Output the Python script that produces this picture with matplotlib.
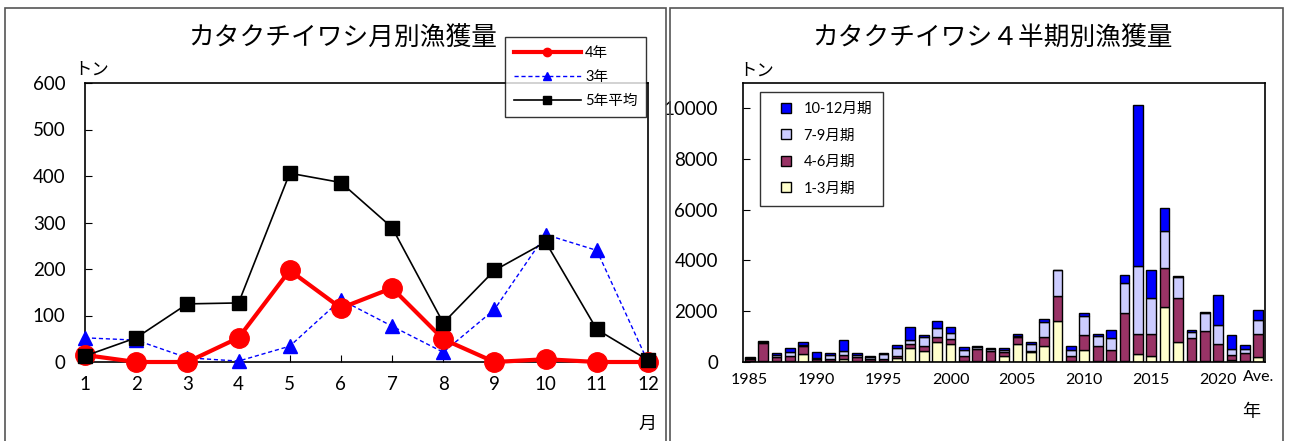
import numpy as np
import matplotlib.pyplot as plt
from matplotlib.lines import Line2D
from matplotlib.patches import Rectangle

plt.rcParams['font.family'] = ['Lato', 'Noto Sans CJK JP', 'DejaVu Sans']

''' Monthly catch (tons) '''
months = list(range(1, 13))
catch_r4 = [15, 0, 0, 52, 197, 116, 159, 49, 0, 6, 0, 0]
catch_r3 = [52, 47, 9, 2, 34, 134, 77, 21, 113, 274, 240, 0]
catch_avg5 = [13, 52, 125, 127, 406, 386, 289, 84, 197, 258, 70, 4]

''' Quarterly catch (tons), 1985-2022 plus average '''
years = [str(y) for y in range(1985, 2023)] + ["Ave."]
q1 = [10, 20, 20, 30, 300, 10, 30, 90, 20, 20, 40, 150, 560, 410, 760, 710, 20, 30, 20, 210,
      700, 370, 600, 1610, 20, 470, 30, 20, 30, 300, 240, 2140, 760, 20, 10, 10, 60, 20, 180]
q2 = [110, 720, 180, 180, 300, 80, 60, 170, 170, 90, 60, 80, 140, 220, 220, 180, 210, 470, 410, 160,
      280, 60, 360, 990, 220, 590, 600, 450, 1910, 810, 870, 1570, 1770, 920, 1190, 700, 220, 320, 920]
q3 = [20, 30, 80, 180, 60, 40, 180, 170, 90, 80, 200, 330, 160, 330, 350, 240, 250, 80, 80, 80,
      30, 270, 590, 1000, 230, 750, 390, 470, 1170, 2670, 1420, 1450, 820, 240, 740, 720, 240, 170, 550]
q4 = [30, 60, 50, 170, 130, 240, 60, 420, 50, 40, 60, 90, 490, 100, 260, 220, 110, 50, 50, 110,
      100, 90, 130, 10, 160, 130, 90, 310, 300, 6340, 1090, 920, 40, 80, 30, 1190, 530, 130, 390]

W, H = 1289, 441
fig = plt.figure(figsize=(W / 100, H / 100), dpi=100)


def px_axes(left, top, right, bottom):
    return fig.add_axes([left / W, 1 - bottom / H, (right - left) / W, (bottom - top) / H])


# panel frames
for x0, x1 in [(5, 666), (670, 1283)]:
    fig.patches.append(Rectangle((x0 / W, -0.01), (x1 - x0) / W, 1 - 8 / H + 0.01,
                                 transform=fig.transFigure, fill=False,
                                 edgecolor="#555555", linewidth=1.2))

''' Left: monthly line chart '''
ax = px_axes(85, 83, 648, 362)
ax.plot(months, catch_r4, color="#ff0000", lw=3, marker="o", ms=14,
        markeredgecolor="#ff0000", clip_on=False, zorder=4)
ax.plot(months, catch_r3, color="#0000ff", lw=1, ls=(0, (3, 2)), marker="^", ms=10,
        clip_on=False, zorder=3)
ax.plot(months, catch_avg5, color="black", lw=1.2, marker="s", ms=10,
        clip_on=False, zorder=5)
ax.set_xlim(1, 12)
ax.set_ylim(0, 600)
ax.set_xticks(months)
ax.set_yticks(range(0, 601, 100))
ax.tick_params(direction="in", length=5, labelsize=13.5)
ax.tick_params(axis="y", pad=14)
ax.tick_params(axis="x", pad=10)
for s in ax.spines.values():
    s.set_linewidth(1.2)

handles = [Line2D([], [], color="#ff0000", lw=3, marker="o", ms=6),
           Line2D([], [], color="#0000ff", lw=1, ls=(0, (3, 2)), marker="^", ms=6),
           Line2D([], [], color="black", lw=1.2, marker="s", ms=6)]
leg = fig.legend(handles, ["4年", "3年", "5年平均"], loc="upper left",
                 bbox_to_anchor=(505 / W, 1 - 37 / H), fontsize=10.5, frameon=True,
                 fancybox=False, edgecolor="black", handlelength=4.6, handletextpad=0.3,
                 labelspacing=0.7, borderpad=0.6, borderaxespad=0)
leg.get_frame().set_linewidth(1)

fig.text(343 / W, 1 - 38 / H, "カタクチイワシ月別漁獲量", ha="center", va="center", fontsize=18.5)
fig.text(92 / W, 1 - 70 / H, "トン", ha="center", va="center", fontsize=12.5)
fig.text(647 / W, 1 - 424 / H, "月", ha="center", va="center", fontsize=13)

''' Right: quarterly stacked bars '''
bx = px_axes(743, 83, 1265, 361.7)
idx = np.arange(len(years))
colors = ["#ffffcc", "#993366", "#ccccff", "#0000ff"]
labels = ["1-3月期", "4-6月期", "7-9月期", "10-12月期"]
bottom = np.zeros(len(years))
for vals, c in zip([q1, q2, q3, q4], colors):
    bx.bar(idx, vals, bottom=bottom, width=0.72, color=c, edgecolor="black", linewidth=1)
    bottom += np.array(vals)
bx.set_xlim(-0.5, len(years) - 0.5)
bx.set_ylim(0, 11000)
bx.set_yticks(range(0, 10001, 2000))
tick_pos = [i for i, y in enumerate(years) if y == "Ave." or int(y) % 5 == 0]
bx.set_xticks(tick_pos)
bx.set_xticklabels([years[i] for i in tick_pos])
bx.tick_params(axis="x", length=0, labelsize=11.5, pad=8)
bx.tick_params(axis="y", direction="in", length=5, labelsize=13.5, pad=18)
bx.get_xticklabels()[-1].set_y(0.01)
for s in bx.spines.values():
    s.set_linewidth(1.2)

# square swatches for the quarter legend
swatches = [Line2D([], [], ls="none", marker="s", ms=6.5, markerfacecolor=c,
                   markeredgecolor="black", markeredgewidth=1) for c in colors]
leg2 = bx.legend(swatches[::-1], labels[::-1], loc="upper left",
                 bbox_to_anchor=(760 / W, 1 - 92 / H), bbox_transform=fig.transFigure,
                 fontsize=10.5, frameon=True, fancybox=False, edgecolor="black",
                 handlelength=2.2, handletextpad=0.1, labelspacing=0.85,
                 borderpad=0.7, borderaxespad=0)
leg2.get_frame().set_linewidth(1)

fig.text(992 / W, 1 - 38 / H, "カタクチイワシ４半期別漁獲量", ha="center", va="center", fontsize=18.5)
fig.text(757 / W, 1 - 71 / H, "トン", ha="center", va="center", fontsize=12.5)
fig.text(1251 / W, 1 - 412 / H, "年", ha="center", va="center", fontsize=13)

fig.savefig("out.png", dpi=100)
